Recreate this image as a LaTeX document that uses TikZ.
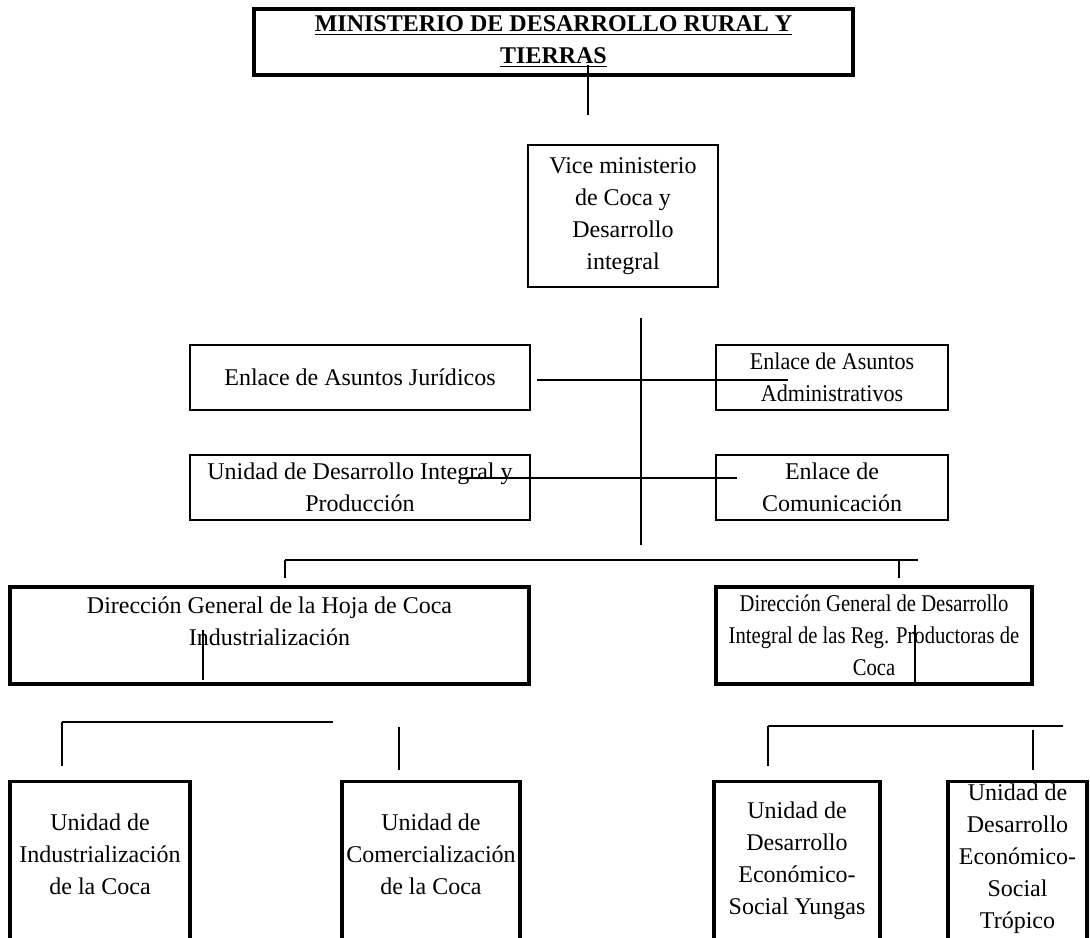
\documentclass[tikz,border=0pt]{standalone}
\usepackage{fontspec}
\setmainfont{Liberation Serif}
\newfontfamily\narrowfont[FakeStretch=0.86]{Liberation Serif}
\newfontfamily\slimfont[FakeStretch=0.92]{Liberation Serif}
\tikzset{
  box/.style={draw, line width=1.2pt, align=center, inner sep=2pt, font=\fontsize{12}{16}\selectfont},
  heavy/.style={line width=1.6pt},
  unitbox/.style={box, heavy, anchor=north, text depth=90pt},
  link/.style={line width=0.7pt},
  bar/.style={line width=1pt},
}
\begin{document}
\begin{tikzpicture}[x=0.5pt, y=-0.5pt] % Start of the org chart (pixel grid)
\path[use as bounding box, clip] (0,0) rectangle (1090,937); % page frame
% Top of the chart
\node[box, heavy, minimum width=299.5pt, minimum height=33pt] (min) at (553.5,42)
  {\textbf{\underline{MINISTERIO DE DESARROLLO RURAL Y}}\\\textbf{\underline{TIERRAS}}}; % Ministry
\node[box, minimum width=95pt, minimum height=71pt] (vice) at (623,216)
  {Vice ministerio\\de Coca y\\Desarrollo\\integral}; % Vice ministry
% Staff units
\node[box, minimum width=170pt, minimum height=32.5pt] (jur) at (360,377.5) {Enlace de Asuntos Jurídicos}; % Legal
\node[box, minimum width=116pt, minimum height=32.5pt] (adm) at (832,377.5) {\slimfont Enlace de Asuntos\\\slimfont Administrativos}; % Admin
\node[box, minimum width=170pt, minimum height=32.5pt] (udip) at (360,487.5) {Unidad de Desarrollo Integral y\\Producción}; % Production
\node[box, minimum width=116pt, minimum height=32.5pt] (com) at (832,487.5) {Enlace de\\Comunicación}; % Communication
% General directions
\node[box, heavy, minimum width=259.5pt, minimum height=48.5pt] (dgl) at (269.5,635.5)
  {Dirección General de la Hoja de Coca\\Industrialización\\[-6pt] \strut}; % Left direction
\node[box, heavy, minimum width=158pt, minimum height=48.5pt] (dgr) at (874,635.5)
  {\narrowfont Dirección General de Desarrollo\\\narrowfont Integral de las Reg. Productoras de\\\narrowfont Coca}; % Right direction
% Units (cut off at the page foot)
\node[unitbox, minimum width=90pt, inner ysep=16pt] (uind) at (100,780) {Unidad de\\Industrialización\\de la Coca}; % Industrialization
\node[unitbox, minimum width=89pt, inner ysep=16pt] (ucom) at (431,780) {Unidad de\\Comercialización\\de la Coca}; % Trade
\node[unitbox, minimum width=83pt, inner ysep=10pt] (uyun) at (797,780) {Unidad de\\Desarrollo\\Económico-\\Social Yungas}; % Yungas
\node[unitbox, minimum width=69.5pt, inner ysep=1pt] (utro) at (1017.5,780) {Unidad de\\Desarrollo\\Económico-\\Social\\Trópico}; % Tropico
% Free ends of the connectors
\coordinate (minA) at (588,65);   \coordinate (minB) at (588,115);
\coordinate (axisA) at (641,318); \coordinate (axisB) at (641,545);
\coordinate (jurA) at (537,380);  \coordinate (admA) at (788,380);
\coordinate (udipA) at (463,478); \coordinate (comA) at (737,478);
\coordinate (dgA) at (285,578);   \coordinate (dgB) at (285,560);
\coordinate (dgC) at (918,560);   \coordinate (dgD) at (899,560); \coordinate (dgE) at (899,578);
\coordinate (dglA) at (203,630);  \coordinate (dglB) at (203,680);
\coordinate (dgrA) at (915,625);  \coordinate (dgrB) at (915,683);
\coordinate (ulA) at (62,766);    \coordinate (ulB) at (62,722);   \coordinate (ulC) at (333,722);
\coordinate (ucA) at (399,727);   \coordinate (ucB) at (399,770);
\coordinate (urA) at (768,766);   \coordinate (urB) at (768,726);  \coordinate (urC) at (1063,726);
\coordinate (utA) at (1033,730);  \coordinate (utB) at (1033,770);
% Connectors
\draw[link] (minA) -- (minB); % below ministry
\draw[link] (axisA) -- (axisB); % main axis
\draw[link] (jurA) -- (admA); % legal / admin
\draw[link] (udipA) -- (comA); % production / communication
\draw[link] (dgA) -- (dgB); \draw[bar] (dgB) -- (dgC); \draw[link] (dgD) -- (dgE); % directions
\draw[link] (dglA) -- (dglB); % inside left direction
\draw[link] (dgrA) -- (dgrB); % inside right direction
\draw[link] (ulA) -- (ulB); \draw[bar] (ulB) -- (ulC); % left units
\draw[link] (ucA) -- (ucB); % trade unit
\draw[link] (urA) -- (urB); \draw[bar] (urB) -- (urC); % right units
\draw[link] (utA) -- (utB); % tropico unit
\end{tikzpicture}
\end{document}
